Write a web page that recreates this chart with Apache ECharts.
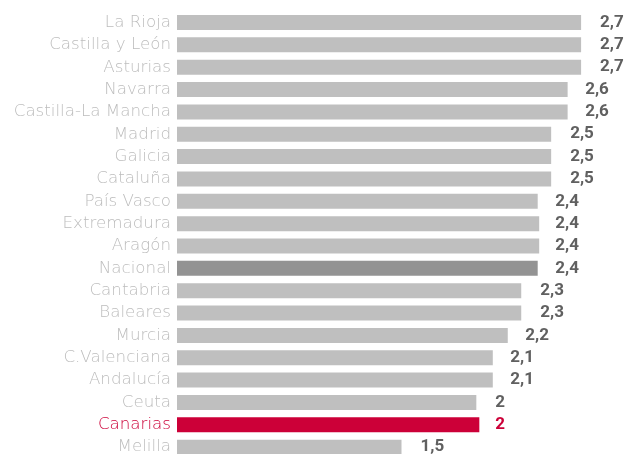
<!DOCTYPE html>
<html>
<head>
    <meta charset="utf-8">
    <title>Regiones</title>
    <script src="https://cdn.jsdelivr.net/npm/echarts@6/dist/echarts.min.js"></script>
</head>
<body style="margin:0">
    <div id="main" style="width: 628px;height:454px;"></div>
    <script type="text/javascript">

    var regiones = ['La Rioja', 'Castilla y León', 'Asturias', 'Navarra', 'Castilla-La Mancha',
        'Madrid', 'Galicia', 'Cataluña', 'País Vasco', 'Extremadura', 'Aragón', 'Nacional',
        'Cantabria', 'Baleares', 'Murcia', 'C.Valenciana', 'Andalucía', 'Ceuta', 'Canarias', 'Melilla'];
    // bar lengths (unrounded)
    var valores = [2.70, 2.70, 2.70, 2.61, 2.61, 2.50, 2.50, 2.50, 2.41, 2.42, 2.42, 2.41,
        2.30, 2.30, 2.21, 2.11, 2.11, 2.00, 2.02, 1.50];
    // printed values (labels sit at these)
    var etiquetas = [2.7, 2.7, 2.7, 2.6, 2.6, 2.5, 2.5, 2.5, 2.4, 2.4, 2.4, 2.4,
        2.3, 2.3, 2.2, 2.1, 2.1, 2, 2, 1.5];

    var gris = '#bfbfbf', grisOscuro = '#939393', rojo = '#cc0038';

    function colorDe(name) {
        if (name == 'Nacional') return grisOscuro;
        if (name == 'Canarias') return rojo;
        return gris;
    }

    var myChart = echarts.init(document.getElementById('main'));

    var option = {
        animation: false,
        grid: { left: 177, width: 449, top: 11.3, height: 447, outerBoundsMode: 'none', containLabel: false },
        xAxis: {
            type: 'value', min: 0, max: 3,
            show: false
        },
        yAxis: {
            type: 'category',
            inverse: true,
            data: regiones.map(function (r) {
                return { value: r, textStyle: { color: r == 'Canarias' ? rojo : '#bdbdbd' } };
            }),
            axisLine: { show: false },
            axisTick: { show: false },
            axisLabel: { margin: 6, fontSize: 16.7, fontFamily: 'DejaVu Sans', fontWeight: 200, color: '#bdbdbd' }
        },
        series: [
            {
                type: 'bar',
                barWidth: 15,
                data: valores.map(function (v, i) {
                    return { value: v, itemStyle: { color: colorDe(regiones[i]) } };
                }),
                z: 2
            },
            {
                type: 'bar',
                barWidth: 15,
                barGap: '-100%',
                silent: true,
                itemStyle: { color: 'rgba(0,0,0,0)' },
                data: etiquetas.map(function (v, i) {
                    return {
                        value: v,
                        label: { color: regiones[i] == 'Canarias' ? rojo : '#606060' }
                    };
                }),
                z: 1,
                label: {
                    show: true,
                    position: 'right',
                    distance: 19,
                    fontSize: 17,
                    fontWeight: 'bold',
                    fontFamily: 'Roboto',
                    formatter: function (p) {
                        return String(p.value).replace('.', ',');
                    }
                }
            }
        ]
    };

    myChart.setOption(option);
    </script>
</body>
</html>
